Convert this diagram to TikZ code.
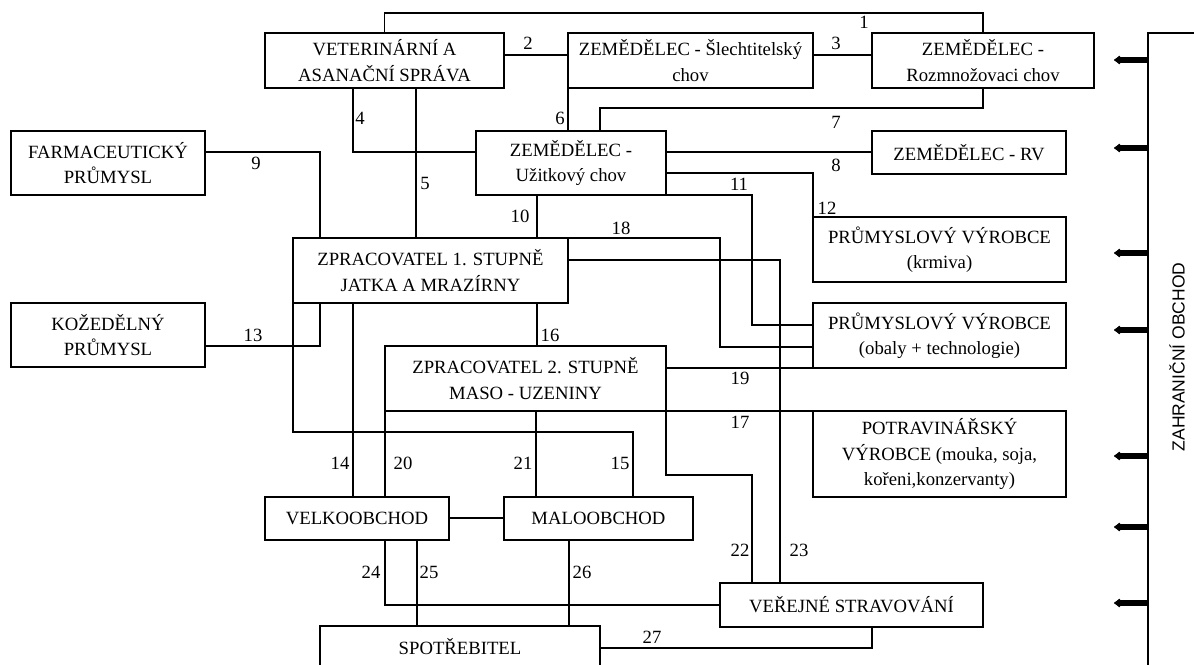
\documentclass[tikz,border=0pt]{standalone}
\usepackage{fontspec}
\setmainfont{Liberation Serif}
\newfontfamily\zofont{Liberation Sans}
\usetikzlibrary{arrows.meta}
\newcommand\bxfont{\fontsize{18.7}{25.5}\selectfont}
\tikzset{
  box/.style={draw, line width=1.6pt, inner sep=0pt, outer sep=0pt, align=center, font=\bxfont},
  lbl/.style={font=\bxfont, inner sep=0pt},
  con/.style={line width=1.6pt},
  fa/.style={line width=6pt, -{Latex[length=7pt,width=11pt,round]}}
}
\begin{document}
\begin{tikzpicture}[x=1pt,y=-1pt]
\useasboundingbox (0,0) rectangle (1194,664);
% boxes
\node[box, minimum width=239pt, minimum height=55pt] (VET) at (384.5,60.5) {VETERINÁRNÍ A\\ASANAČNÍ SPRÁVA};
\node[box, minimum width=245pt, minimum height=55pt] (SL) at (690.5,60.5) {ZEMĚDĚLEC - Šlechtitelský\\chov};
\node[box, minimum width=222pt, minimum height=55pt] (ROZM) at (983,60.5) {ZEMĚDĚLEC -\\Rozmnožovaci chov};
\node[box, minimum width=194pt, minimum height=64pt] (FARM) at (108,163) {FARMACEUTICKÝ\\PRŮMYSL};
\node[box, minimum width=190pt, minimum height=64pt] (UZ) at (571,163) {ZEMĚDĚLEC -\\Užitkový chov};
\node[box, minimum width=194pt, minimum height=43pt] (RV) at (969,152.5) {ZEMĚDĚLEC - RV};
\node[box, minimum width=253pt, minimum height=65pt] (KRM) at (939.5,249.5) {PRŮMYSLOVÝ VÝROBCE\\(krmiva)};
\node[box, minimum width=275pt, minimum height=65pt] (ZPR1) at (430.5,270.5) {ZPRACOVATEL 1. STUPNĚ\\JATKA A MRAZÍRNY};
\node[box, minimum width=194pt, minimum height=64pt] (KOZ) at (108,335) {KOŽEDĚLNÝ\\PRŮMYSL};
\node[box, minimum width=253pt, minimum height=65pt] (OBALY) at (939.5,335.5) {PRŮMYSLOVÝ VÝROBCE\\(obaly + technologie)};
\node[box, minimum width=281pt, minimum height=65pt] (ZPR2) at (525.5,378.5) {ZPRACOVATEL 2. STUPNĚ\\MASO - UZENINY};
\node[box, minimum width=253pt, minimum height=86pt] (POTR) at (939.5,454) {POTRAVINÁŘSKÝ\\VÝROBCE (mouka, soja,\\kořeni,konzervanty)};
\node[box, minimum width=184pt, minimum height=43pt] (VELK) at (357,518.5) {VELKOOBCHOD};
\node[box, minimum width=189pt, minimum height=43pt] (MALO) at (598.5,518.5) {MALOOBCHOD};
\node[box, minimum width=263pt, minimum height=44pt] (VEREJ) at (851.5,605) {VEŘEJNÉ STRAVOVÁNÍ};
\node[box, minimum width=280pt, minimum height=42pt] (SPOT) at (460,647) {SPOTŘEBITEL};
% foreign trade bar
\node[font=\zofont\fontsize{17.5}{20}\selectfont, rotate=90, inner sep=0pt] (ZO) at (1177,357) {ZAHRANIČNÍ OBCHOD};
\draw[con] (1196,33) -- (1148,33) -- (1148,670);
\foreach \yy [count=\i] in {60,148,253,330,456,527,603}{
  \coordinate (b\i) at (1148,\yy);
  \draw[fa] (b\i) -- ++(-34,0);
}
% connectors
\draw[con] (VET.north) -- ++(0,-20) -| (ROZM.north);
\draw[con] (VET.east |- 0,55) -- (SL.west |- 0,55);
\draw[con] (SL.east |- 0,55) -- (ROZM.west |- 0,55);
\draw[con] (VET.south -| 353,0) |- (UZ.west |- 0,152);
\draw[con] (VET.south -| 416,0) -- (ZPR1.north -| 416,0);
\draw[con] (SL.south west) -- (UZ.north -| SL.south west);
\draw[con] (ROZM.south) -- ++(0,20) -| (UZ.north -| 600,0);
\draw[con] (UZ.east |- 0,152) -- (RV.west |- 0,152);
\draw[con] (FARM.east |- 0,152) -| (ZPR1.north -| 320,0);
\draw[con] (UZ.south -| 537,0) -- (ZPR1.north -| 537,0);
\draw[con] (UZ.south east) -| (752,325) -- (OBALY.west |- 0,325);
\draw[con] (UZ.east |- 0,173) -| (KRM.north west);
\draw[con] (KOZ.east |- 0,346) -| (ZPR1.south -| 320,0);
\draw[con] (ZPR1.south -| 353,0) -- (VELK.north -| 353,0);
\draw[con] (ZPR1.south west) |- (633,432) -- (MALO.north -| 633,0);
\draw[con] (ZPR1.south -| 537,0) -- (ZPR2.north -| 537,0);
\draw[con] (ZPR2.south east) -- (POTR.north west);
\draw[con] (ZPR1.north east) -| (720,347) -- (OBALY.west |- 0,347);
\draw[con] (ZPR2.east |- 0,368) -- (OBALY.south west);
\draw[con] (ZPR2.south west) -- (VELK.north -| ZPR2.south west);
\draw[con] (ZPR2.south -| 536,0) -- (MALO.north -| 536,0);
\draw[con] (ZPR2.south east) |- (752,475) -- (VEREJ.north -| 752,0);
\draw[con] (ZPR1.east |- 0,260) -| (VEREJ.north -| 780,0);
\draw[con] (VELK.south -| 385,0) |- (VEREJ.west);
\draw[con] (VELK.south -| 417,0) -- (SPOT.north -| 417,0);
\draw[con] (MALO.south -| 569,0) -- (SPOT.north -| 569,0);
\draw[con] (VEREJ.south -| 872,0) |- (SPOT.east |- 0,648);
\draw[con] (VELK.east |- 0,518) -- (MALO.west |- 0,518);
% labels
\node[lbl] (n1) at (864,22) {1};
\node[lbl] (n2) at (528,43) {2};
\node[lbl] (n3) at (836,43) {3};
\node[lbl] (n4) at (360,118) {4};
\node[lbl] (n5) at (425,183) {5};
\node[lbl] (n6) at (560,118) {6};
\node[lbl] (n7) at (836,122) {7};
\node[lbl] (n8) at (836,165) {8};
\node[lbl] (n9) at (256,163) {9};
\node[lbl] (n10) at (520,216) {10};
\node[lbl] (n11) at (739,184) {11};
\node[lbl] (n12) at (827,208) {12};
\node[lbl] (n13) at (253,335) {13};
\node[lbl] (n14) at (340,463) {14};
\node[lbl] (n15) at (620,463) {15};
\node[lbl] (n16) at (550,335) {16};
\node[lbl] (n17) at (740,422) {17};
\node[lbl] (n18) at (621,228) {18};
\node[lbl] (n19) at (740,378) {19};
\node[lbl] (n20) at (403,463) {20};
\node[lbl] (n21) at (523,463) {21};
\node[lbl] (n22) at (740,550) {22};
\node[lbl] (n23) at (799,550) {23};
\node[lbl] (n24) at (371,572) {24};
\node[lbl] (n25) at (429,572) {25};
\node[lbl] (n26) at (582,572) {26};
\node[lbl] (n27) at (652,637) {27};
\end{tikzpicture}
\end{document}
